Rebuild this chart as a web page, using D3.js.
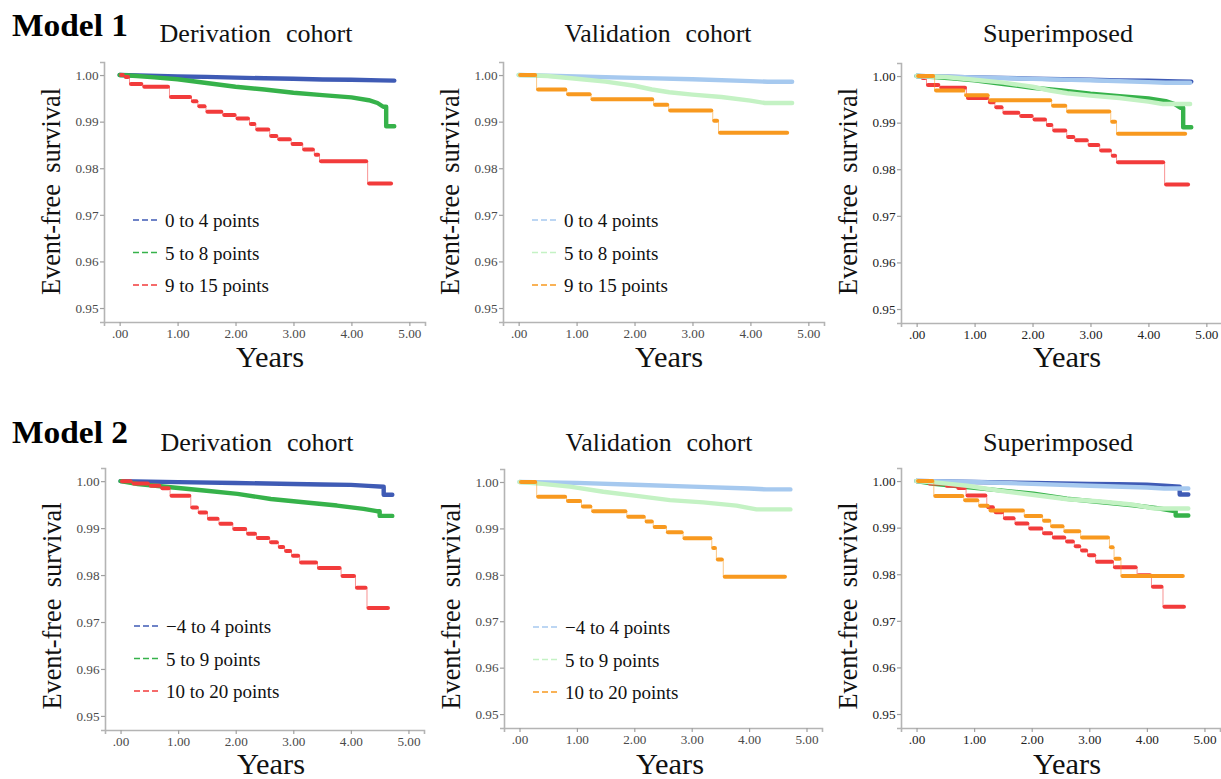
<!DOCTYPE html>
<html><head><meta charset="utf-8">
<script src="https://cdn.jsdelivr.net/npm/d3@7"></script>
<style>
html,body{margin:0;padding:0;background:#fff;}
svg{display:block;}
text{font-family:"Liberation Serif",Tinos,"Times New Roman",Times,"DejaVu Serif",serif;}
</style></head><body>
<svg id="chart" width="1221" height="779"></svg>
<script>
// ---------- tick labels / texts ----------
const xTickValues = [0, 1, 2, 3, 4, 5];
const xTickLabels = [".00", "1.00", "2.00", "3.00", "4.00", "5.00"];
const yTickValues = [0.95, 0.96, 0.97, 0.98, 0.99, 1.00];
const yTickLabels = ["0.95", "0.96", "0.97", "0.98", "0.99", "1.00"];
const modelTitles = ["Model 1", "Model 2"];
const panelTitles = ["Derivation cohort", "Validation cohort", "Superimposed"];
const m1Legend = ["0 to 4 points", "5 to 8 points", "9 to 15 points"];
const m2Legend = ["\u22124 to 4 points", "5 to 9 points", "10 to 20 points"];

// ---------- data: [years, event-free survival] ----------
// Model 1 – derivation
const m1Der0to4 = [[0,1],[0.5,0.99985],[1,0.9997],[1.5,0.9996],[2,0.99945],[2.5,0.9993],[3,0.9992],[3.5,0.99905],[4,0.9990],[4.5,0.99885],[4.74,0.9988]];
const m1Der5to8 = [[0,1],[0.3,0.9998],[0.6,0.9995],[1.0,0.9991],[1.5,0.9983],[2.0,0.9975],[2.5,0.9969],[3.0,0.9962],[3.5,0.9957],[4.0,0.9952],[4.3,0.9946],[4.45,0.9940],[4.55,0.9932],[4.60,0.9932],[4.60,0.9890],[4.74,0.9890]];
const m1Der9to15 = [[0,1.0],[0.08,0.9996],[0.17,0.9981],[0.40,0.9975],[0.86,0.9953],[1.24,0.9944],[1.35,0.9933],[1.49,0.9921],[1.78,0.9914],[2.01,0.9907],[2.24,0.9895],[2.35,0.9883],[2.59,0.9869],[2.73,0.9862],[2.96,0.9852],[3.16,0.9840],[3.36,0.9829],[3.45,0.9815],[4.28,0.9767],[4.71,0.9767]];
// Model 1 – validation
const m1Val0to4 = [[0,1],[1,0.9997],[2,0.9994],[3,0.9991],[4,0.9987],[4.3,0.99855],[4.72,0.99855]];
const m1Val5to8 = [[0,1],[0.5,0.9998],[1,0.9992],[1.5,0.9986],[2,0.9977],[2.3,0.9969],[2.6,0.9963],[3,0.9958],[3.5,0.9953],[4,0.9945],[4.25,0.9940],[4.72,0.9940]];
const m1Val9to15 = [[0,1],[0.31,0.9969],[0.83,0.9959],[1.25,0.9948],[2.33,0.9936],[2.59,0.9924],[3.35,0.9902],[3.45,0.9876],[4.66,0.9876]];
// Model 2 – derivation
const m2DerM4to4 = [[0,1],[1,0.9998],[2,0.9996],[3,0.9994],[3.5,0.9993],[4,0.9992],[4.3,0.9990],[4.57,0.9988],[4.57,0.9971],[4.72,0.9971]];
const m2Der5to9 = [[0,1],[0.3,0.9994],[0.87,0.9987],[1.45,0.9980],[2.03,0.9973],[2.61,0.9962],[3.18,0.9955],[3.76,0.9948],[4.22,0.9941],[4.45,0.9936],[4.50,0.9936],[4.50,0.9926],[4.72,0.9926]];
const m2Der10to20 = [[0,1],[0.2,0.9995],[0.5,0.9990],[0.7,0.9985],[0.86,0.9969],[1.22,0.9944],[1.35,0.9933],[1.51,0.9920],[1.71,0.9909],[1.95,0.9898],[2.19,0.9888],[2.36,0.9879],[2.59,0.9870],[2.74,0.9860],[2.85,0.9851],[2.97,0.9841],[3.11,0.9827],[3.42,0.9815],[3.83,0.9798],[4.08,0.9773],[4.28,0.9730],[4.67,0.9730]];
// Model 2 – validation
const m2ValM4to4 = [[0,1],[1,0.9998],[2,0.9994],[3,0.9990],[4,0.9986],[4.3,0.9984],[4.72,0.9984]];
const m2Val5to9 = [[0,1],[0.4,0.9996],[0.88,0.9990],[1.46,0.9979],[2.04,0.9970],[2.62,0.9961],[3.2,0.9956],[3.78,0.9949],[4.13,0.9941],[4.72,0.9941]];
const m2Val10to20 = [[0,1],[0.30,0.9968],[0.82,0.9959],[1.08,0.9947],[1.26,0.9937],[1.87,0.9925],[2.19,0.9915],[2.33,0.9903],[2.56,0.9892],[2.85,0.9879],[3.35,0.9858],[3.43,0.9833],[3.55,0.9796],[4.65,0.9796]];

// ---------- styles ----------
const colors = {blue:"#3f5bb5", green:"#36b24a", red:"#f23b3b", lblue:"#a6c9ef", lgreen:"#c4f2c4", orange:"#f8991f"};
const FONT = '"Liberation Serif",Tinos,"Times New Roman",Times,"DejaVu Serif",serif';

const svg = d3.select("#chart");

const rows = [
  {model:modelTitles[0], modelY:36, titleY:42, yearsY:367, ylabCY:191.5, legend:m1Legend,
   der:[{d:m1Der0to4,c:"blue",k:"dense"},{d:m1Der5to8,c:"green",k:"dense"},{d:m1Der9to15,c:"red",k:"step"}],
   val:[{d:m1Val0to4,c:"lblue",k:"dense"},{d:m1Val5to8,c:"lgreen",k:"dense"},{d:m1Val9to15,c:"orange",k:"step"}],
   frames:[{l:104,t:62,w:321,h:260},{l:503,t:62,w:321,h:260},{l:901,t:63,w:321,h:260}]},
  {model:modelTitles[1], modelY:443, titleY:450.5, yearsY:774, ylabCY:606, legend:m2Legend,
   der:[{d:m2DerM4to4,c:"blue",k:"dense"},{d:m2Der5to9,c:"green",k:"dense"},{d:m2Der10to20,c:"red",k:"step"}],
   val:[{d:m2ValM4to4,c:"lblue",k:"dense"},{d:m2Val5to9,c:"lgreen",k:"dense"},{d:m2Val10to20,c:"orange",k:"step"}],
   frames:[{l:105,t:468,w:319,h:262},{l:504,t:469,w:318,h:259},{l:901,t:468,w:319,h:260}]}
];
const titleDx = [152, 155, 157];
const titleLen = [193, 187, 150];

function drawSeries(g, s, x, y) {
  const col = colors[s.c];
  if (s.k === "dense") {
    g.append("path").datum(s.d)
      .attr("fill","none").attr("stroke",col)
      .attr("stroke-width",4.4).attr("stroke-linejoin","round").attr("stroke-linecap","round")
      .attr("d", d3.line().x(p=>x(p[0])).y(p=>y(p[1])).curve(d3.curveLinear));
  } else {
    g.append("path").datum(s.d)
      .attr("fill","none").attr("stroke",col).attr("stroke-opacity",0.55)
      .attr("stroke-width",1)
      .attr("d", d3.line().x(p=>x(p[0])).y(p=>y(p[1])).curve(d3.curveStepAfter));
    const segs = d3.pairs(s.d);
    g.selectAll(null).data(segs).enter().append("line")
      .attr("x1",p=>x(p[0][0])+1.5).attr("x2",p=>x(p[1][0])-1.5)
      .attr("y1",p=>y(p[0][1])).attr("y2",p=>y(p[0][1]))
      .attr("stroke",col).attr("stroke-width",4).attr("stroke-linecap","round");
  }
}

rows.forEach(row => {
  svg.append("text").attr("x",12).attr("y",row.modelY)
    .attr("font-size",31).attr("font-weight","bold").attr("fill","#000")
    .attr("textLength",116).attr("lengthAdjust","spacingAndGlyphs").text(row.model);

  row.frames.forEach((f, pi) => {
    const x = d3.scaleLinear().domain([-0.27, 5.27]).range([f.l, f.l + f.w]);
    const y = d3.scaleLinear().domain([0.947, 1.0028]).range([f.t + f.h, f.t]);
    const dark = pi === 2;

    // title
    svg.append("text").attr("x", f.l + titleDx[pi]).attr("y", row.titleY)
      .attr("text-anchor","middle").attr("font-size",24.5).attr("word-spacing", pi===2?0:8)
      .attr("textLength", titleLen[pi]).attr("lengthAdjust","spacingAndGlyphs")
      .attr("fill","#111").text(panelTitles[pi]);

    // axes
    const gx = svg.append("g").attr("transform",`translate(0,${f.t+f.h})`)
      .call(d3.axisBottom(x).tickValues(xTickValues).tickFormat((d,i)=>xTickLabels[i])
        .tickSizeOuter(0).tickSize(4).tickPadding(2.5));
    const gy = svg.append("g").attr("transform",`translate(${f.l},0)`)
      .call(d3.axisLeft(y).tickValues(yTickValues).tickFormat((d,i)=>yTickLabels[i])
        .tickSizeOuter(0).tickSize(4).tickPadding(1.5));
    [gx, gy].forEach(g => {
      g.attr("font-family",FONT).attr("font-size",13.2);
      g.select(".domain").attr("stroke","#b4b4b4").attr("stroke-width",1.6);
      g.selectAll(".tick line").attr("stroke","#a0a0a0").attr("stroke-width",1.2);
      g.selectAll(".tick text").attr("fill", dark ? "#222" : "#4a4a4a");
    });

    // axis titles
    svg.append("text").attr("x", f.l + 166).attr("y", row.yearsY)
      .attr("text-anchor","middle").attr("font-size",28.5).attr("fill","#111")
      .attr("textLength",68).attr("lengthAdjust","spacingAndGlyphs").text("Years");
    svg.append("text")
      .attr("transform",`translate(${f.l - 44},${row.ylabCY}) rotate(-90)`)
      .attr("text-anchor","middle").attr("font-size",26.5).attr("word-spacing",5)
      .attr("textLength",207).attr("lengthAdjust","spacingAndGlyphs")
      .attr("fill","#111").text("Event-free survival");

    // curves
    const g = svg.append("g");
    let series;
    if (pi === 0) series = row.der;
    else if (pi === 1) series = row.val;
    else series = row.der.concat(row.val);
    series.forEach(s => drawSeries(g, s, x, y));

    // legend
    if (pi < 2) {
      const items = (pi === 0 ? row.der : row.val);
      const offs = [158, 190.5, 223];
      items.forEach((s, i) => {
        const yy = f.t + offs[i];
        svg.append("line").attr("x1", f.l + 29).attr("x2", f.l + 53)
          .attr("y1", yy).attr("y2", yy)
          .attr("stroke", colors[s.c]).attr("stroke-width", 1.6).attr("stroke-dasharray","6,3");
        svg.append("text").attr("x", f.l + 61).attr("y", yy + 7)
          .attr("font-size", 19).attr("fill","#111").text(row.legend[i]);
      });
    }
  });
});
</script>
</body></html>
